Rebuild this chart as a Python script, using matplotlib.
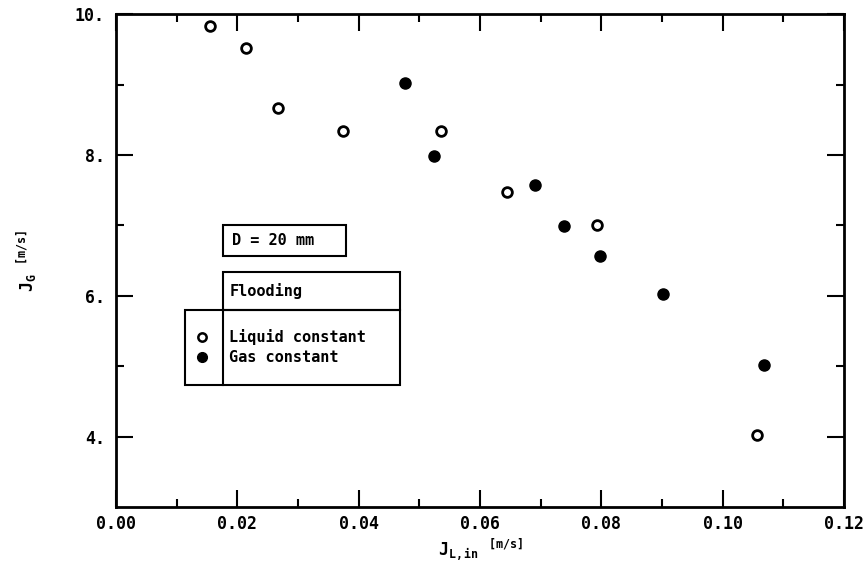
import matplotlib
matplotlib.use('Agg')
import matplotlib.pyplot as plt
from matplotlib.patches import Rectangle
from matplotlib.lines import Line2D

# Flooding data, D = 20 mm
jl_liquid = [0.0155, 0.0214, 0.0267, 0.0374, 0.0535, 0.0645, 0.0793, 0.1056]
jg_liquid = [9.83, 9.52, 8.67, 8.34, 8.34, 7.48, 7.00, 4.02]

jl_gas = [0.0477, 0.0525, 0.0691, 0.0739, 0.0797, 0.0902, 0.1068]
jg_gas = [9.02, 7.99, 7.58, 6.99, 6.57, 6.02, 5.02]

x_ticks = [0.00, 0.02, 0.04, 0.06, 0.08, 0.10, 0.12]
y_ticks = [4, 6, 8, 10]

plt.rcParams['font.family'] = 'DejaVu Sans Mono'
plt.rcParams['font.weight'] = 'bold'
plt.rcParams['mathtext.fontset'] = 'custom'
plt.rcParams['mathtext.rm'] = 'DejaVu Sans Mono:bold'
plt.rcParams['mathtext.it'] = 'DejaVu Sans Mono:bold'
plt.rcParams['mathtext.bf'] = 'DejaVu Sans Mono:bold'

fig = plt.figure(figsize=(8.63, 5.78), dpi=100)
ax = fig.add_axes([0.1344, 0.1228, 0.8436, 0.8525])

ax.plot(jl_liquid, jg_liquid, 'o', mfc='white', mec='black', mew=2, ms=7, ls='none')
ax.plot(jl_gas, jg_gas, 'o', mfc='black', mec='black', ms=8, ls='none')

ax.set_xlim(0, 0.12)
ax.set_ylim(3.0, 10.0)
ax.set_xticks(x_ticks)
ax.set_xticklabels(['%.2f' % v for v in x_ticks])
ax.set_xticks([0.01, 0.03, 0.05, 0.07, 0.09, 0.11], minor=True)
ax.set_yticks(y_ticks)
ax.set_yticklabels(['%d.' % v for v in y_ticks])
ax.set_yticks([5, 7, 9], minor=True)

ax.tick_params(which='both', direction='in', top=True, right=True, width=1.5,
               labelsize=12)
ax.tick_params(axis='x', pad=6)
ax.tick_params(axis='y', pad=8)
ax.tick_params(which='major', length=12)
ax.tick_params(which='minor', length=6)
for s in ax.spines.values():
    s.set_linewidth(2)

ax.set_xlabel(r'$J_{L,in}$' + ' $^{[m/s]}$', fontsize=12, labelpad=2)
ax.set_ylabel(r'$J_G$' + ' $^{[m/s]}$', fontsize=12, labelpad=26)

# boxes in axes fraction
def fx(px):
    return (px - 116) / 727.0

def fy(py):
    return (507 - py) / 492.7

box_kw = dict(transform=ax.transAxes, fill=False, lw=1.5, ec='black')
ax.add_patch(Rectangle((fx(223), fy(256)), fx(346) - fx(223), fy(225) - fy(256), **box_kw))
ax.text(fx(232), fy(241), 'D = 20 mm', transform=ax.transAxes, fontsize=11, va='center')

ax.add_patch(Rectangle((fx(223), fy(310)), fx(400) - fx(223), fy(272) - fy(310), **box_kw))
ax.text(fx(229), fy(291), 'Flooding', transform=ax.transAxes, fontsize=11, va='center')

ax.add_patch(Rectangle((fx(185), fy(385)), fx(400) - fx(185), fy(310) - fy(385), **box_kw))
ax.add_line(Line2D([fx(223), fx(223)], [fy(385), fy(310)], transform=ax.transAxes,
                   lw=1.5, color='black'))

ax.plot([fx(202)], [fy(337)], 'o', mfc='white', mec='black', mew=1.8, ms=6,
        transform=ax.transAxes)
ax.plot([fx(202)], [fy(357)], 'o', mfc='black', mec='black', ms=7,
        transform=ax.transAxes)
ax.text(fx(229), fy(337), 'Liquid constant', transform=ax.transAxes, fontsize=11, va='center')
ax.text(fx(229), fy(357), 'Gas constant', transform=ax.transAxes, fontsize=11, va='center')

fig.savefig('out.png', dpi=100)
